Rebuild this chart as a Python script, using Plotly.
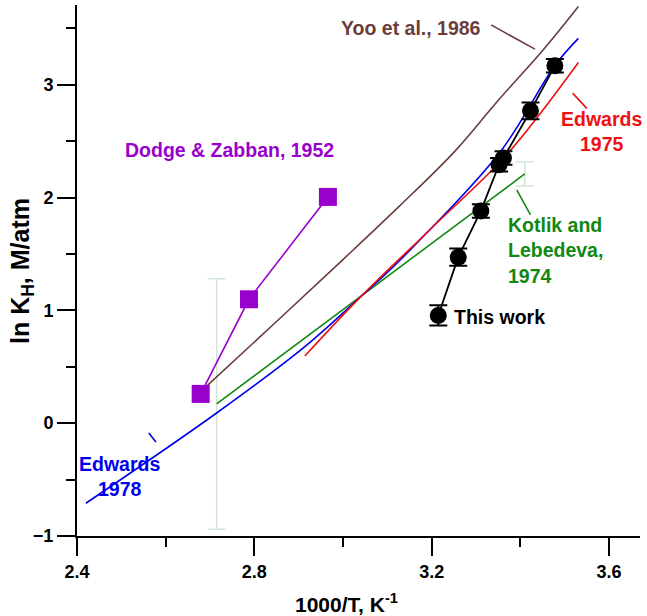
import plotly.graph_objects as go

# ---- data ----
this_x = [3.215, 3.26, 3.311, 3.352, 3.362, 3.423, 3.478]
this_y = [0.955, 1.471, 1.881, 2.29, 2.35, 2.768, 3.167]
this_err = [0.09, 0.077, 0.06, 0.06, 0.06, 0.075, 0.06]

dodge_x = [2.679, 2.788, 2.966]
dodge_y = [0.259, 1.098, 2.005]

kotlik_x = [2.715, 3.41]
kotlik_y = [0.17, 2.209]
kotlik_err = [1.11, 0.107]

ed75_x = [2.914, 3.038, 3.2, 3.369, 3.531]
ed75_y = [0.596, 1.113, 1.73, 2.378, 3.196]

ed78_x = [2.42, 2.715, 2.914, 3.038, 3.129, 3.354, 3.478, 3.531]
ed78_y = [-0.71, 0.09, 0.678, 1.113, 1.447, 2.40, 3.17, 3.41]

yoo_x = [2.679, 2.858, 3.0, 3.129, 3.25, 3.35, 3.45, 3.531]
yoo_y = [0.279, 0.93, 1.45, 1.93, 2.40, 2.86, 3.30, 3.692]

x_title = "1000/T, K<sup>-1</sup>"
y_title = "ln K<sub>H</sub>, M/atm"

PURPLE = "#9900cc"
BROWN = "#6b3d3d"
RED = "#ee1111"
BLUE = "#0000ee"
GREEN = "#118811"
FAINT = "#d3e5da"

FONT = "Liberation Sans"

fig = go.Figure()

fig.add_trace(go.Scatter(x=kotlik_x, y=kotlik_y, mode="lines",
                         line=dict(color=GREEN, width=1.6),
                         error_y=dict(type="data", array=kotlik_err, color=FAINT,
                                      thickness=1.5, width=9),
                         showlegend=False))
fig.add_trace(go.Scatter(x=yoo_x, y=yoo_y, mode="lines", line_shape="spline",
                         line=dict(color=BROWN, width=1.6), showlegend=False))
fig.add_trace(go.Scatter(x=ed78_x, y=ed78_y, mode="lines", line_shape="spline",
                         line=dict(color=BLUE, width=1.6), showlegend=False))
fig.add_trace(go.Scatter(x=ed75_x, y=ed75_y, mode="lines", line_shape="spline",
                         line=dict(color=RED, width=1.6), showlegend=False))
fig.add_trace(go.Scatter(x=dodge_x, y=dodge_y, mode="lines+markers",
                         line=dict(color=PURPLE, width=1.6),
                         marker=dict(symbol="square", size=18, color=PURPLE),
                         showlegend=False))
fig.add_trace(go.Scatter(x=this_x, y=this_y, mode="lines+markers",
                         line=dict(color="black", width=1.8),
                         marker=dict(symbol="circle", size=17, color="black"),
                         error_y=dict(type="data", array=this_err, color="black",
                                      thickness=2, width=9),
                         showlegend=False))

# leader lines
leaders = [
    ((3.334, 3.53), (3.433, 3.315), BROWN),
    ((3.518, 2.925), (3.55, 2.79), RED),
    ((3.392, 2.067), (3.423, 1.846), GREEN),
    ((2.562, -0.087), (2.578, -0.167), BLUE),
]
for (x0, y0), (x1, y1), c in leaders:
    fig.add_shape(type="line", x0=x0, y0=y0, x1=x1, y1=y1,
                  line=dict(color=c, width=1.6), xref="x", yref="y")

def ann(text, x, y, color, xanchor="left", align="left"):
    fig.add_annotation(text=text, x=x, y=y, xref="x", yref="y", showarrow=False,
                       xanchor=xanchor, yanchor="middle", align=align,
                       font=dict(family=FONT, size=19.5, color=color, weight="bold"))

ann("Yoo et al., 1986", 3.316, 3.504, BROWN, xanchor="right")
ann("Dodge &amp; Zabban, 1952", 2.504, 2.422, PURPLE)
ann("Edwards<br>1975", 3.584, 2.582, RED, xanchor="center", align="center")
ann("Kotlik and<br>Lebedeva,<br>1974", 3.368, 1.527, GREEN)
ann("This work", 3.246, 0.94, "black")
ann("Edwards<br>1978", 2.496, -0.473, BLUE, xanchor="center", align="center")

# axis titles as annotations (pixel-placed relative to the plot area)
PLOT_W, PLOT_H = 563, 531
fig.add_annotation(text=y_title, textangle=-90, showarrow=False,
                   xref="paper", yref="paper", x=(22 - 77) / PLOT_W, y=(536 - 271) / PLOT_H,
                   xanchor="center", yanchor="middle",
                   font=dict(family=FONT, size=25, color="black", weight="bold"))
fig.add_annotation(text=x_title, showarrow=False,
                   xref="paper", yref="paper", x=(346 - 77) / PLOT_W, y=(536 - 603) / PLOT_H,
                   xanchor="center", yanchor="middle",
                   font=dict(family=FONT, size=21, color="black", weight="bold"))

axis_common = dict(showline=True, linecolor="black", linewidth=2,
                   ticks="outside", ticklen=18, tickwidth=2, tickcolor="black",
                   showgrid=False, zeroline=False, automargin=False,
                   tickfont=dict(family=FONT, size=18, color="black", weight="bold"))

fig.update_xaxes(range=[2.4, 3.67], tick0=2.4, dtick=0.4, tickformat=".1f",
                 minor=dict(ticks="outside", ticklen=9, tickwidth=2, tickcolor="black",
                            dtick=0.2, tick0=2.4, showgrid=False),
                 **axis_common)
fig.update_yaxes(range=[-1, 3.706], tick0=-1, dtick=1,
                 minor=dict(ticks="outside", ticklen=9, tickwidth=2, tickcolor="black",
                            dtick=0.5, tick0=-1, showgrid=False),
                 **axis_common)

fig.update_layout(width=647, height=616, plot_bgcolor="white", paper_bgcolor="white",
                  margin=dict(l=77, r=7, t=5, b=80), showlegend=False)

fig.write_html("out.html", config={"displayModeBar": False},
               post_script="document.body.style.margin='0';document.body.style.padding='0';")
